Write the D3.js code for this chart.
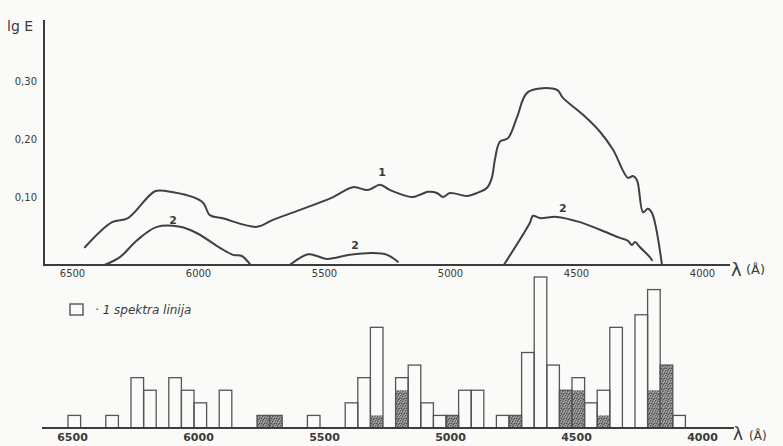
<!DOCTYPE html>
<html>
<head>
<meta charset="utf-8">
<script src="https://cdn.jsdelivr.net/npm/d3@7"></script>
<style>
  html, body { margin: 0; padding: 0; background: #fafaf8; }
  svg { display: block; }
  text { font-family: "DejaVu Sans", "Liberation Sans", sans-serif; fill: #3a3a3a; }
</style>
</head>
<body>
<svg id="chart" width="783" height="446"></svg>
<script>
// Wavelength ticks (Å) shared by both panels
const waveTicks = [6500, 6000, 5500, 5000, 4500, 4000];
// lg E ticks of the upper panel
const lgTicks = [0.10, 0.20, 0.30];

// Curve 1: absorption spectrum
const curve1Lambda = [6433, 6325, 6262, 6155, 6107, 5968, 5937, 5889, 5750, 5687, 5579, 5448, 5369, 5310, 5262, 5222,
  5135, 5103, 5071, 5036, 5012, 4984, 4917, 4877, 4837, 4818, 4806, 4786, 4754, 4718, 4675, 4560, 4536, 4456,
  4389, 4337, 4278, 4258, 4242, 4218, 4199, 4183, 4143];
const curve1LgE = [0.015, 0.058, 0.065, 0.111, 0.111, 0.093, 0.070, 0.065, 0.050, 0.062, 0.079, 0.101, 0.118, 0.113, 0.122, 0.113,
  0.101, 0.105, 0.110, 0.108, 0.101, 0.108, 0.103, 0.108, 0.117, 0.134, 0.165, 0.196, 0.202, 0.238, 0.281, 0.285, 0.271, 0.242,
  0.213, 0.182, 0.134, 0.137, 0.130, 0.075, 0.081, 0.074, -0.015];

// Curve 2: three separate bands
const curve2aLambda = [6353, 6294, 6226, 6147, 6056, 5988, 5897, 5845, 5810, 5778];
const curve2aLgE = [-0.015, -0.002, 0.027, 0.050, 0.050, 0.039, 0.014, 0.002, 0.000, -0.014];
const curve2bLambda = [5619, 5548, 5512, 5472, 5381, 5290, 5234, 5191];
const curve2bLgE = [-0.015, 0.003, 0.000, -0.005, 0.002, 0.005, 0.002, -0.010];
const curve2cLambda = [4770, 4667, 4655, 4627, 4560, 4468, 4389, 4310, 4278, 4262, 4250, 4230, 4191, 4183];
const curve2cLgE = [-0.015, 0.057, 0.069, 0.065, 0.067, 0.058, 0.045, 0.031, 0.026, 0.019, 0.024, 0.015, -0.002, -0.007];

// Curve labels: text, wavelength, lg E
const curveLabelText = ["1", "2", "2", "2"];
const curveLabelLambda = [5254, 6083, 5361, 4536];
const curveLabelLgE = [0.142, 0.060, 0.017, 0.081];

// Lower panel: 50 Å bins (upper edge), number of lines, hatched part
const binLambda = [6500, 6350, 6250, 6200, 6100, 6050, 6000, 5900, 5750, 5700, 5550, 5400, 5350, 5300, 5200, 5150,
  5100, 5050, 5000, 4950, 4900, 4800, 4750, 4700, 4650, 4600, 4550, 4500, 4450, 4400, 4350, 4250, 4200, 4150, 4100];
const lineCount = [1, 1, 4, 3, 4, 3, 2, 3, 1, 1, 1, 2, 4, 8, 4, 5,
  2, 1, 1, 3, 3, 1, 1, 6, 12, 5, 3, 4, 2, 3, 8, 9, 11, 5, 1];
const hatchedCount = [0, 0, 0, 0, 0, 0, 0, 0, 1, 1, 0, 0, 0, 1, 3, 0,
  0, 0, 1, 0, 0, 0, 1, 0, 0, 0, 3, 3, 0, 1, 0, 0, 3, 5, 0];
const binWidth = 50;

const svg = d3.select("#chart");
const ink = "#3c3c3c";

// Stippled fill for the hatched parts of the bars
const defs = svg.append("defs");
const pat = defs.append("pattern").attr("id", "stipple")
  .attr("width", 5).attr("height", 5).attr("patternUnits", "userSpaceOnUse");
pat.append("rect").attr("width", 5).attr("height", 5).attr("fill", "#858585");
const darkSpecks = [[0, 0], [2, 1], [4, 3], [1, 3], [3, 4]];
const lightSpecks = [[1, 1], [3, 2], [0, 4], [4, 0]];
darkSpecks.forEach(([a, b]) => pat.append("rect").attr("x", a).attr("y", b).attr("width", 1).attr("height", 1).attr("fill", "#4e4e4e"));
lightSpecks.forEach(([a, b]) => pat.append("rect").attr("x", a).attr("y", b).attr("width", 1).attr("height", 1).attr("fill", "#b4b4b4"));

// Scales
const x = d3.scaleLinear().domain([6500, 4000]).range([68, 698]);
const yTop = d3.scaleLinear().domain([0, 0.30]).range([256, 81]);
const yBot = d3.scaleLinear().domain([0, 12]).range([428, 277]);

const topBase = 265;
const botBase = yBot(0);

// ---- Upper panel ----
svg.append("line").attr("x1", 44).attr("x2", 44).attr("y1", 20).attr("y2", topBase)
  .attr("stroke", ink).attr("stroke-width", 2);
svg.append("line").attr("x1", 43).attr("x2", 730).attr("y1", topBase).attr("y2", topBase)
  .attr("stroke", ink).attr("stroke-width", 1.8);

svg.append("text").attr("x", 7).attr("y", 31).attr("font-size", 14).text("lg E");

const yAxis = d3.axisLeft(yTop).tickValues(lgTicks).tickSize(0).tickPadding(7)
  .tickFormat(d => d3.format(".2f")(d).replace(".", ","));
const gy = svg.append("g").attr("transform", "translate(44,0)").call(yAxis);
gy.select(".domain").remove();
gy.selectAll("text").attr("font-size", 10).style("fill", "#3a3a3a").style("font-family", "DejaVu Sans, sans-serif");

const xAxisTop = d3.axisBottom(x).tickValues(waveTicks).tickSize(0).tickPadding(5).tickFormat(d3.format("d"));
const gxt = svg.append("g").attr("transform", `translate(0,${topBase})`).call(xAxisTop);
gxt.select(".domain").remove();
gxt.selectAll("text").attr("dx", 4).attr("font-size", 10).style("fill", "#3a3a3a").style("font-family", "DejaVu Sans, sans-serif");

svg.append("text").attr("x", 731).attr("y", 276).attr("font-size", 18).text("λ");
svg.append("text").attr("x", 746).attr("y", 274).attr("font-size", 13).text("(Å)");

const line = d3.line().x(d => x(d[0])).y(d => yTop(d[1])).curve(d3.curveCatmullRom.alpha(0.5));
const zip = (a, b) => a.map((v, i) => [v, b[i]]);
[[curve1Lambda, curve1LgE], [curve2aLambda, curve2aLgE], [curve2bLambda, curve2bLgE], [curve2cLambda, curve2cLgE]]
  .forEach(([l, e]) => {
    svg.append("path").datum(zip(l, e)).attr("d", line)
      .attr("fill", "none").attr("stroke", "#404040").attr("stroke-width", 2)
      .attr("stroke-linejoin", "round").attr("stroke-linecap", "round");
  });

svg.selectAll("text.curvelab").data(curveLabelText).enter().append("text")
  .attr("class", "curvelab")
  .attr("x", (d, i) => x(curveLabelLambda[i]))
  .attr("y", (d, i) => yTop(curveLabelLgE[i]))
  .attr("text-anchor", "middle").attr("dominant-baseline", "middle")
  .attr("font-size", 11).attr("font-weight", "bold").text(d => d);

// ---- Lower panel ----
const bars = binLambda.map((l, i) => ({ l, n: lineCount[i], h: hatchedCount[i] }));
const w = x(binLambda[0] - binWidth) - x(binLambda[0]);

svg.append("g").selectAll("rect").data(bars.filter(d => d.h > 0)).enter().append("rect")
  .attr("x", d => x(d.l)).attr("width", w)
  .attr("y", d => yBot(d.h)).attr("height", d => botBase - yBot(d.h))
  .attr("fill", "url(#stipple)");

svg.append("g").selectAll("rect").data(bars).enter().append("rect")
  .attr("x", d => x(d.l)).attr("width", w)
  .attr("y", d => yBot(d.n)).attr("height", d => botBase - yBot(d.n))
  .attr("fill", "none").attr("stroke", "#555").attr("stroke-width", 1.3);

svg.append("line").attr("x1", 42).attr("x2", 734).attr("y1", botBase).attr("y2", botBase)
  .attr("stroke", ink).attr("stroke-width", 1.8);

const xAxisBot = d3.axisBottom(x).tickValues(waveTicks).tickSize(0).tickPadding(5).tickFormat(d3.format("d"));
const gxb = svg.append("g").attr("transform", `translate(0,${botBase})`).call(xAxisBot);
gxb.select(".domain").remove();
gxb.selectAll("text").attr("dx", 4).attr("font-size", 11).attr("font-weight", "bold")
  .style("fill", "#3a3a3a").style("font-family", "DejaVu Sans, sans-serif");

svg.append("text").attr("x", 733).attr("y", 440).attr("font-size", 17).text("λ");
svg.append("text").attr("x", 749).attr("y", 440).attr("font-size", 12).text("(Å)");

// Legend
svg.append("rect").attr("x", 70).attr("y", 304).attr("width", 13).attr("height", 11)
  .attr("fill", "none").attr("stroke", "#555").attr("stroke-width", 1.4);
svg.append("text").attr("x", 95).attr("y", 314).attr("font-size", 12).attr("font-style", "italic")
  .text("· 1 spektra linija");
</script>
</body>
</html>
